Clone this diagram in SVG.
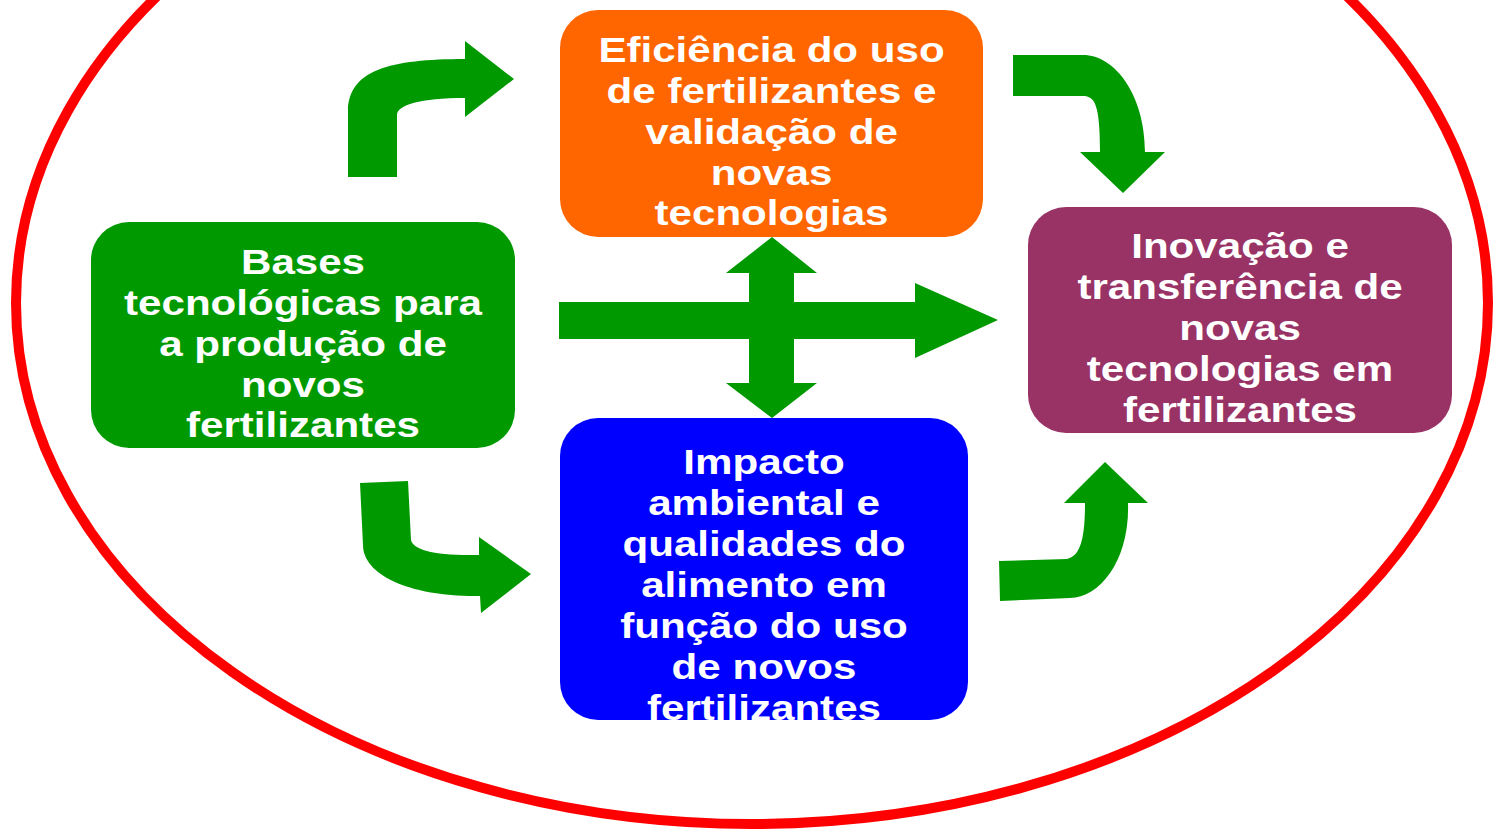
<svg xmlns="http://www.w3.org/2000/svg" width="1495" height="829" viewBox="0 0 1495 829">
<style>
.lbl{font-family:"Liberation Sans",Arial,sans-serif;font-weight:bold;font-size:36px;fill:#ffffff;text-anchor:middle}
.arr{fill:#009900}
</style>
<defs>
<clipPath id="clipBlue"><rect x="560" y="418" width="408" height="302" rx="38" ry="38"/></clipPath>
</defs>
<rect width="1495" height="829" fill="#ffffff"/>
<ellipse id="frame" cx="752" cy="303" rx="736" ry="521" fill="none" stroke="#ff0000" stroke-width="10"/>
<g id="connectors">
<path class="arr" d="M348 177 L348 112 C348 70 390 59 465 59 L465 41 L514 79 L465 117 L465 98 C420 98 397 105 397 115 L397 177 Z"/>
<path class="arr" d="M1013 55 L1083 55 C1115 55 1145 95 1145 152 L1165 152 L1123 193 L1080 152 L1100 152 C1100 105 1095 96 1083 96 L1013 96 Z"/>
<path class="arr" d="M360 483 L408 481 L411 540 C413 550 435 556 479 555 L479 537 L531 574 L481 613 L480 596 C410 597 363 575 363 545 Z"/>
<path class="arr" d="M999 561 L1067 559 C1080 556 1085 540 1085 503 L1064 503 L1105 462 L1148 503 L1128 503 C1130 560 1100 598 1070 598 L1000 601 Z"/>
<path class="arr" d="M559 302 L915 302 L915 283 L998 320 L915 358 L915 339 L559 339 Z"/>
<path class="arr" d="M772 237 L817 273 L794 273 L794 383 L817 383 L772 418 L726 383 L749 383 L749 273 L726 273 Z"/>
</g>
<g id="node-bases">
<rect x="91" y="222" width="424" height="226" rx="38" ry="38" fill="#009900"/>
<text class="lbl" transform="translate(303 0) scale(1.17 1)"><tspan x="0" y="274">Bases</tspan><tspan x="0" y="315">tecnológicas para</tspan><tspan x="0" y="356">a produção de</tspan><tspan x="0" y="397">novos</tspan><tspan x="0" y="437">fertilizantes</tspan></text>
</g>
<g id="node-eficiencia">
<rect x="560" y="10" width="423" height="227" rx="38" ry="38" fill="#ff6600"/>
<text class="lbl" transform="translate(771.5 0) scale(1.17 1)"><tspan x="0" y="62">Eficiência do uso</tspan><tspan x="0" y="103">de fertilizantes e</tspan><tspan x="0" y="144">validação de</tspan><tspan x="0" y="185">novas</tspan><tspan x="0" y="225">tecnologias</tspan></text>
</g>
<g id="node-inovacao">
<rect x="1028" y="207" width="424" height="226" rx="38" ry="38" fill="#993366"/>
<text class="lbl" transform="translate(1240 0) scale(1.17 1)"><tspan x="0" y="258">Inovação e</tspan><tspan x="0" y="299">transferência de</tspan><tspan x="0" y="340">novas</tspan><tspan x="0" y="381">tecnologias em</tspan><tspan x="0" y="422">fertilizantes</tspan></text>
</g>
<g id="node-impacto">
<rect x="560" y="418" width="408" height="302" rx="38" ry="38" fill="#0000ff"/>
<g clip-path="url(#clipBlue)">
<text class="lbl" transform="translate(764 0) scale(1.17 1)"><tspan x="0" y="474">Impacto</tspan><tspan x="0" y="515">ambiental e</tspan><tspan x="0" y="556">qualidades do</tspan><tspan x="0" y="597">alimento em</tspan><tspan x="0" y="638">função do uso</tspan><tspan x="0" y="679">de novos</tspan><tspan x="0" y="720">fertilizantes</tspan></text>
</g>
</g>
</svg>
